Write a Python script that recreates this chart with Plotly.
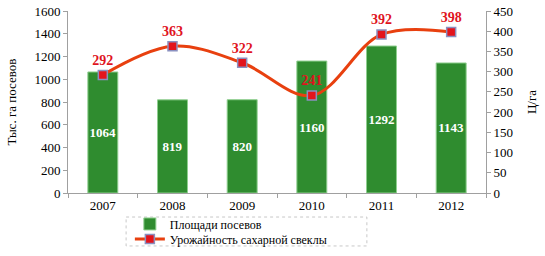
import plotly.graph_objects as go

years = ["2007", "2008", "2009", "2010", "2011", "2012"]
area = [1064, 819, 820, 1160, 1292, 1143]
yield_vals = [292, 363, 322, 241, 392, 398]

FONT = "Liberation Serif, Times New Roman, serif"

fig = go.Figure()
fig.add_trace(go.Bar(
    x=years, y=area, name="Площади посевов",
    marker=dict(color="#2f8c2f", line=dict(color="#8fcf8f", width=1)),
    width=0.43,
    text=[f"<b>{v}</b>" for v in area], textposition="inside", insidetextanchor="middle",
    textfont=dict(color="white", size=13, family=FONT),
    textangle=0, legend="legend",
))
fig.add_trace(go.Scatter(
    x=years, y=yield_vals, name="Урожайность сахарной свеклы", yaxis="y2",
    mode="lines+markers+text",
    line=dict(color="#e8400f", width=3, shape="spline", smoothing=1.0),
    marker=dict(symbol="square", size=9, color="#e3141c", line=dict(color="#8a90c0", width=1.5)),
    text=[f"<b>{v}</b>" for v in yield_vals], textposition="top center",
    textfont=dict(color="#e0141e", size=14, family=FONT),
    legend="legend2",
))

leg_common = dict(xanchor="left", yanchor="middle", orientation="v",
                  borderwidth=0, bgcolor="rgba(0,0,0,0)",
                  font=dict(size=12, family=FONT), itemwidth=30)

fig.update_layout(
    width=545, height=256,
    margin=dict(l=68, r=59, t=11, b=63, autoexpand=False),
    paper_bgcolor="white", plot_bgcolor="white",
    font=dict(family=FONT, size=12, color="black"),
    uniformtext=dict(mode="show", minsize=13),
    showlegend=True,
    legend=dict(x=0.148, y=-0.170, **leg_common),
    legend2=dict(x=0.148, y=-0.253, **leg_common),
    shapes=[dict(type="rect", xref="paper", yref="paper", x0=0.139, x1=0.715,
                 y0=-0.132, y1=-0.291, line=dict(color="#c8c8c8", width=1, dash="dot"),
                 fillcolor="rgba(0,0,0,0)", layer="below")],
    xaxis=dict(type="category", showline=True, linecolor="#a0a0a0", linewidth=1,
               ticks="outside", tickson="boundaries", ticklen=4, tickcolor="#a0a0a0",
               tickfont=dict(size=13), showgrid=False),
    yaxis=dict(range=[0, 1600], dtick=200, showline=True, linecolor="#a0a0a0", linewidth=1,
               ticks="outside", ticklen=4, tickcolor="#a0a0a0", showgrid=False,
               tickfont=dict(size=13), zeroline=False,
               title=dict(text="Тыс. га посевов", font=dict(size=13), standoff=14)),
    yaxis2=dict(range=[0, 450], dtick=50, overlaying="y", side="right", showline=True,
                linecolor="#a0a0a0", linewidth=1, ticks="outside", ticklen=4, tickcolor="#a0a0a0",
                showgrid=False, tickfont=dict(size=13), zeroline=False,
                title=dict(text="Ц/га", font=dict(size=13), standoff=14)),
)

fig.write_html("out.html")
